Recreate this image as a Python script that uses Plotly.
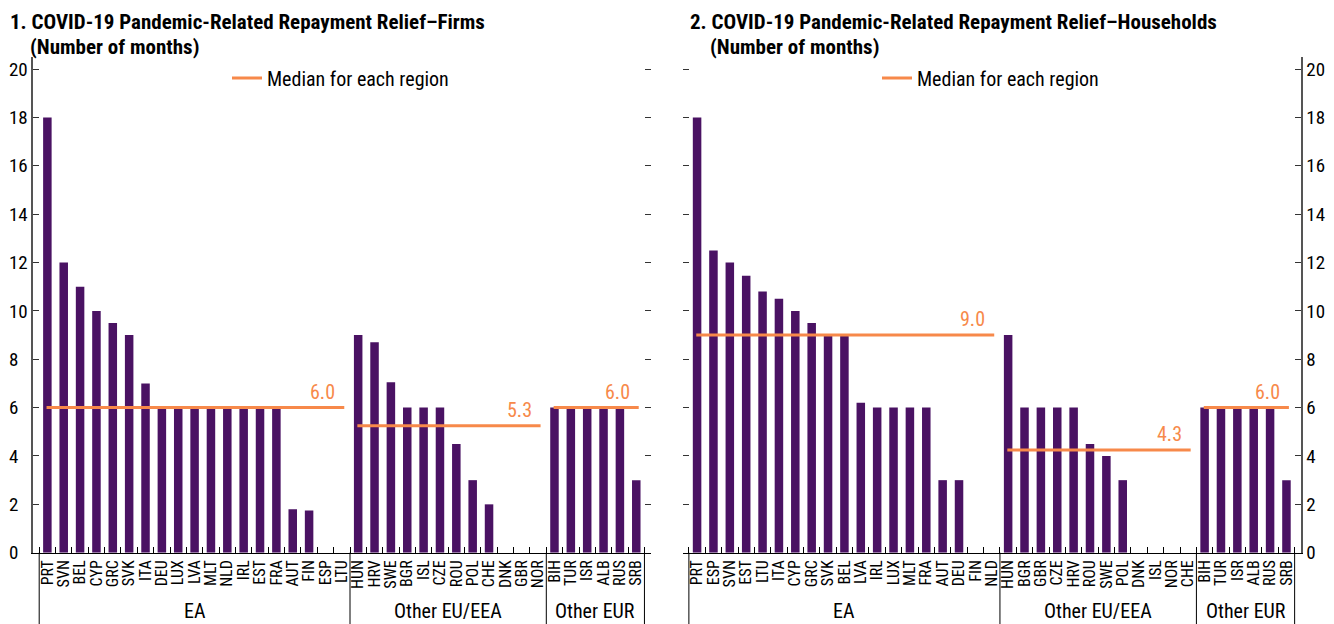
import plotly.graph_objects as go

# ---------------- data ----------------
firms_ea = ["PRT", "SVN", "BEL", "CYP", "GRC", "SVK", "ITA", "DEU", "LUX", "LVA",
            "MLT", "NLD", "IRL", "EST", "FRA", "AUT", "FIN", "ESP", "LTU"]
firms_ea_vals = [18, 12, 11, 10, 9.5, 9, 7, 6, 6, 6, 6, 6, 6, 6, 6, 1.8, 1.75, 0, 0]
firms_eu = ["HUN", "HRV", "SWE", "BGR", "ISL", "CZE", "ROU", "POL", "CHE", "DNK", "GBR", "NOR"]
firms_eu_vals = [9, 8.7, 7.05, 6, 6, 6, 4.5, 3, 2, 0, 0, 0]
firms_eur = ["BIH", "TUR", "ISR", "ALB", "RUS", "SRB"]
firms_eur_vals = [6, 6, 6, 6, 6, 3]
firms_medians = [6.0, 5.25, 6.0]

hh_ea = ["PRT", "ESP", "SVN", "EST", "LTU", "ITA", "CYP", "GRC", "SVK", "BEL", "LVA",
         "IRL", "LUX", "MLT", "FRA", "AUT", "DEU", "FIN", "NLD"]
hh_ea_vals = [18, 12.5, 12, 11.45, 10.8, 10.5, 10, 9.5, 9, 9, 6.2, 6, 6, 6, 6, 3, 3, 0, 0]
hh_eu = ["HUN", "BGR", "GBR", "CZE", "HRV", "ROU", "SWE", "POL", "DNK", "ISL", "NOR", "CHE"]
hh_eu_vals = [9, 6, 6, 6, 6, 4.5, 4, 3, 0, 0, 0, 0]
hh_eur = ["BIH", "TUR", "ISR", "ALB", "RUS", "SRB"]
hh_eur_vals = [6, 6, 6, 6, 6, 3]
hh_medians = [9.0, 4.25, 6.0]

group_names = ["EA", "Other EU/EEA", "Other EUR"]
y_ticks = [0, 2, 4, 6, 8, 10, 12, 14, 16, 18, 20]

titles = ["1. COVID-19 Pandemic-Related Repayment Relief–Firms",
          "2. COVID-19 Pandemic-Related Repayment Relief–Households"]
subtitle = "(Number of months)"
legend_label = "Median for each region"

# ---------------- style ----------------
# page body has an 8px margin, so the figure is drawn 8px in from the top-left
OFF = 8
W, H = 1334 - OFF, 624 - OFF
FONT = "Roboto Condensed, Liberation Sans Narrow, Arial Narrow, sans-serif"
BAR = "#4A1263"
ORANGE = "#F7894A"


def px_x(x):
    return (x - OFF) / W


def px_y(y):
    return (H - (y - OFF)) / H


YDOM = [px_y(552.7), px_y(57)]
XDOM1 = [px_x(33.3), px_x(650.5)]
XDOM2 = [px_x(683), px_x(1300.7)]
XRANGE = [-0.86, 36.87]

fig = go.Figure()

panels = [
    ("x", "y", [firms_ea, firms_eu, firms_eur], [firms_ea_vals, firms_eu_vals, firms_eur_vals], firms_medians, "legend"),
    ("x2", "y2", [hh_ea, hh_eu, hh_eur], [hh_ea_vals, hh_eu_vals, hh_eur_vals], hh_medians, "legend2"),
]

ticktexts = {}
for xa, ya, groups, vals, meds, lg in panels:
    cats = [c for g in groups for c in g]
    v = [x for g in vals for x in g]
    idx = list(range(len(cats)))
    ticktexts[xa] = (idx, cats)
    fig.add_trace(go.Bar(x=idx, y=v, xaxis=xa, yaxis=ya, marker_color=BAR,
                         marker_line_width=0, width=0.52, showlegend=False,
                         hovertext=cats))
    start = 0
    bounds = [-0.5]
    for gi, g in enumerate(groups):
        first, last = start, start + len(g) - 1
        fig.add_trace(go.Scatter(x=[first - 0.05, last + 0.15], y=[meds[gi]] * 2,
                                 xaxis=xa, yaxis=ya, mode="lines",
                                 line=dict(color=ORANGE, width=3),
                                 name=legend_label, legend=lg, showlegend=(gi == 0)))
        fig.add_annotation(x=last + 0.15, y=meds[gi], xref=xa, yref=ya,
                           text=f"{meds[gi] + 1e-9:.1f}", showarrow=False,
                           xanchor="right", yanchor="middle", xshift=-7, yshift=16,
                           font=dict(family=FONT, size=20, color=ORANGE))
        fig.add_annotation(x=(first + last) / 2, y=px_y(611), xref=xa, yref="paper",
                           text=group_names[gi], showarrow=False, xanchor="center",
                           yanchor="middle", font=dict(family=FONT, size=20, color="black"))
        start += len(g)
        bounds.append(start - 0.5)
    for b in bounds:
        fig.add_shape(type="line", x0=b, x1=b, y0=0, y1=YDOM[0], xref=xa, yref="paper",
                      line=dict(color="black", width=1))

axis_common = dict(showgrid=False, zeroline=False, automargin=False)


def xaxis_cfg(key, dom, anchor):
    idx, cats = ticktexts[key]
    return dict(domain=dom, anchor=anchor, range=XRANGE, showline=True, linecolor="black",
                linewidth=1.2, tickmode="array", tickvals=idx, ticktext=cats, ticks="",
                tickangle=-90, tickfont=dict(family=FONT, size=16, color="black"),
                minor=dict(tickmode="array", tickvals=[i - 0.5 for i in range(len(idx) + 1)],
                           ticks="inside", ticklen=6, tickcolor="black", showgrid=False),
                **axis_common)


yaxis_common = dict(range=[0, 20.5], tickmode="array", tickvals=y_ticks, ticks="inside",
                    ticklen=6, tickcolor="#333", domain=YDOM,
                    tickfont=dict(family=FONT, size=19, color="black"), **axis_common)

left_text = [f"{t}\u2007" if t < 10 else str(t) for t in y_ticks]

fig.update_layout(
    width=W, height=H, margin=dict(l=0, r=0, t=0, b=0, autoexpand=False),
    plot_bgcolor="white", paper_bgcolor="white",
    xaxis=xaxis_cfg("x", XDOM1, "y"),
    xaxis2=xaxis_cfg("x2", XDOM2, "y2"),
    yaxis=dict(anchor="x", side="left", showline=True, linecolor="#555", linewidth=1.5,
               ticktext=left_text, **yaxis_common),
    yaxis3=dict(anchor="x", overlaying="y", side="right", showline=False,
                showticklabels=False, **yaxis_common),
    yaxis2=dict(anchor="x2", side="right", showline=True, linecolor="#555", linewidth=1.5,
                **yaxis_common),
    yaxis4=dict(anchor="x2", overlaying="y2", side="left", showline=False,
                showticklabels=False, **yaxis_common),
    legend=dict(x=px_x(227), y=px_y(78), xanchor="left", yanchor="middle",
                bgcolor="rgba(0,0,0,0)", font=dict(family=FONT, size=20, color="black")),
    legend2=dict(x=px_x(877), y=px_y(78), xanchor="left", yanchor="middle",
                 bgcolor="rgba(0,0,0,0)", font=dict(family=FONT, size=20, color="black")),
)

# dummy traces so the overlay (tick-only) axes render
fig.add_trace(go.Scatter(x=[None], y=[None], xaxis="x", yaxis="y3", showlegend=False))
fig.add_trace(go.Scatter(x=[None], y=[None], xaxis="x2", yaxis="y4", showlegend=False))

for tx, x0 in [(titles[0], 8), (titles[1], 688)]:
    fig.add_annotation(x=px_x(x0), y=px_y(8), xref="paper", yref="paper", text=f"<b>{tx}</b>",
                       showarrow=False, xanchor="left", yanchor="top",
                       font=dict(family=FONT, size=21, color="black"))
    fig.add_annotation(x=px_x(x0 + 20), y=px_y(33), xref="paper", yref="paper",
                       text=f"<b>{subtitle}</b>", showarrow=False, xanchor="left", yanchor="top",
                       font=dict(family=FONT, size=21, color="black"))

fig.write_html("out.html")
